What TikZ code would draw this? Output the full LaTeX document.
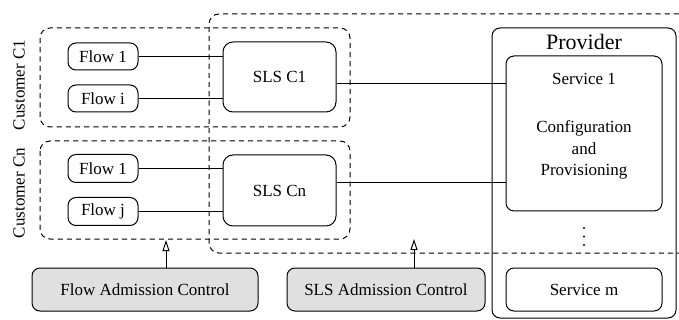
\documentclass[tikz,border=0pt]{standalone}
\usepackage{fontspec}
\setmainfont{Liberation Serif}
\usetikzlibrary{arrows.meta}
\begin{document}
\begin{tikzpicture}[x=0.5pt,y=-0.5pt,
  every node/.style={font=\fontsize{8.5}{10.5}\selectfont},
  box/.style={draw, line width=0.5pt, rounded corners=4pt, inner sep=0pt},
  gbox/.style={box, fill=black!12},
  dbox/.style={draw, line width=0.5pt, dash pattern=on 2.6pt off 2pt, rounded corners=5pt},
  conn/.style={line width=0.5pt},
  arr/.style={line width=0.5pt, -{Triangle[open, length=5.5pt, width=3.5pt]}},
  dotmark/.style={fill, circle, inner sep=0pt, minimum size=1.1pt}
]
\useasboundingbox (0,0) rectangle (679,320);
% dashed groups
\draw[dbox] (40,28) rectangle (350,127);
\draw[dbox] (40,141) rectangle (350,239);
\draw[dbox] (679,14) -- (209,14) -- (209,253) -- (679,253);
% customer C1
\node[box, minimum width=35pt, minimum height=13.5pt] (fA1) at (103,56.5) {Flow 1};
\node[box, minimum width=35pt, minimum height=13.5pt] (fAi) at (103,98.5) {Flow i};
\node[box, rounded corners=5pt, minimum width=56.5pt, minimum height=35pt] (slsA) at (279.5,77) {SLS C1};
% customer Cn
\node[box, minimum width=35pt, minimum height=14pt] (fB1) at (103,168.5) {Flow 1};
\node[box, minimum width=35pt, minimum height=14pt] (fBj) at (103,211.5) {Flow j};
\node[box, rounded corners=5pt, minimum width=56.5pt, minimum height=35.5pt] (slsB) at (279.5,190.5) {SLS Cn};
% labels
\node[rotate=90] (lA) at (19,85) {Customer C1};
\node[rotate=90] (lB) at (19,193) {Customer Cn};
% admission controls
\node[gbox, minimum width=113pt, minimum height=21.5pt] (fac) at (145,289.5) {Flow Admission Control};
\node[gbox, minimum width=99pt, minimum height=21.5pt] (sac) at (386,289.5) {SLS Admission Control};
% provider
\node[box, minimum width=92pt, minimum height=145pt] (prov) at (584,173) {};
\node[font=\fontsize{11}{13}\selectfont] (provt) at (584,42) {Provider};
\node[box, minimum width=78pt, minimum height=77.5pt] (svc1) at (584,133.5) {};
\node (svc1t) at (584,79) {Service 1};
\node[align=center, font=\fontsize{8.5}{10.8}\selectfont] (cfg) at (584,150) {Configuration\\and\\Provisioning};
\node[dotmark] (d1) at (584,228) {};
\node[dotmark] (d2) at (584,236.5) {};
\node[dotmark] (d3) at (584,245) {};
\node[box, minimum width=78pt, minimum height=21.5pt] (svcm) at (584,289.5) {Service m};
% connectors
\draw[conn] (fA1.east) -- (fA1 -| slsA.west);
\draw[conn] (fAi.east) -- (fAi -| slsA.west);
\draw[conn] (fB1.east) -- (fB1 -| slsB.west);
\draw[conn] (fBj.east) -- (fBj -| slsB.west);
\draw[conn] (slsA.east |- 0,84) -- (svc1.west |- 0,84);
\draw[conn] (slsB.east |- 0,183) -- (svc1.west |- 0,183);
\coordinate (tipA) at (166,240);
\coordinate (tipB) at (414,239);
\draw[arr] (fac.north -| tipA) -- (tipA);
\draw[arr] (sac.north -| tipB) -- (tipB);
\end{tikzpicture}
\end{document}
